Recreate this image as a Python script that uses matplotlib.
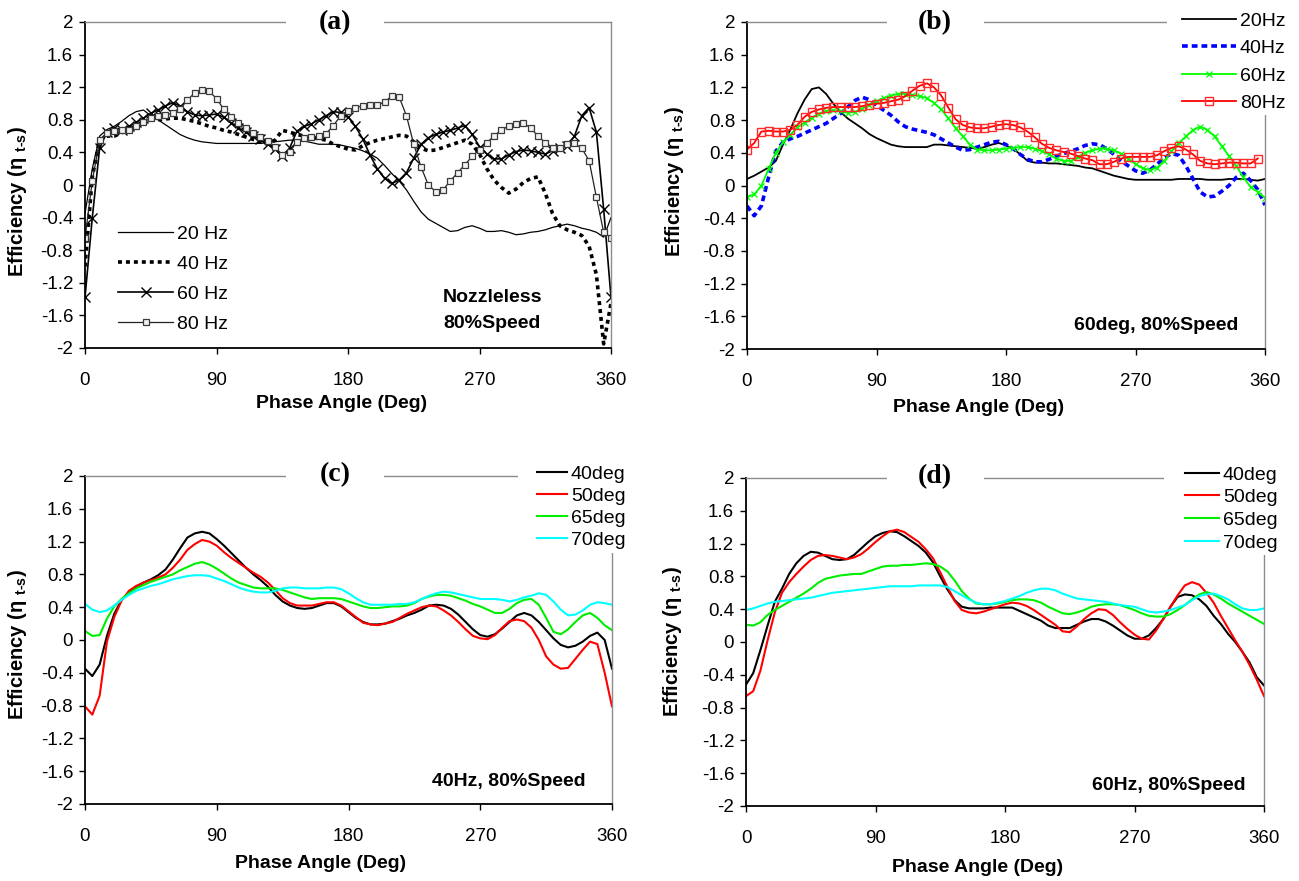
import numpy as np
import matplotlib
matplotlib.use("Agg")
import matplotlib.pyplot as plt
from matplotlib.patches import Rectangle

plt.rcParams["mathtext.fontset"] = "custom"
plt.rcParams["mathtext.rm"] = "Liberation Sans:bold"
plt.rcParams["mathtext.bf"] = "Liberation Sans:bold"
plt.rcParams["mathtext.it"] = "Liberation Sans:bold"

# ---------------------------------------------------------------- data
phase = np.arange(0, 361, 5)

x_ticks = [0, 90, 180, 270, 360]
x_tick_labels = ["0", "90", "180", "270", "360"]
y_ticks = [2, 1.6, 1.2, 0.8, 0.4, 0, -0.4, -0.8, -1.2, -1.6, -2]
y_tick_labels = ["2", "1.6", "1.2", "0.8", "0.4", "0", "-0.4", "-0.8",
                 "-1.2", "-1.6", "-2"]

# (a) nozzleless turbine, 80% speed, pulse frequency sweep
a_labels = ["20 Hz", "40 Hz", "60 Hz", "80 Hz"]
a_20hz = [-0.35, 0.20, 0.60, 0.68, 0.72, 0.78, 0.85, 0.90, 0.92, 0.85, 0.80, 0.74,
          0.68, 0.62, 0.58, 0.55, 0.53, 0.52, 0.51, 0.51, 0.51, 0.51, 0.51, 0.51,
          0.51, 0.52, 0.53, 0.54, 0.55, 0.55, 0.54, 0.52, 0.50, 0.50, 0.50, 0.49,
          0.47, 0.45, 0.42, 0.38, 0.33, 0.24, 0.14, 0.05, -0.06, -0.20, -0.33, -0.42,
          -0.47, -0.52, -0.57, -0.56, -0.52, -0.50, -0.53, -0.57, -0.57, -0.56, -0.58, -0.61,
          -0.60, -0.58, -0.57, -0.55, -0.52, -0.50, -0.48, -0.50, -0.53, -0.55, -0.58, -0.64,
          -0.40]
a_40hz = [-1.00, 0.10, 0.55, 0.60, 0.60, 0.64, 0.70, 0.74, 0.78, 0.80, 0.80, 0.81,
          0.82, 0.82, 0.80, 0.78, 0.75, 0.72, 0.70, 0.67, 0.65, 0.62, 0.59, 0.56,
          0.53, 0.50, 0.55, 0.67, 0.65, 0.62, 0.60, 0.58, 0.57, 0.55, 0.50, 0.47,
          0.44, 0.43, 0.48, 0.52, 0.55, 0.57, 0.59, 0.61, 0.60, 0.53, 0.45, 0.42,
          0.43, 0.46, 0.49, 0.52, 0.55, 0.50, 0.38, 0.20, 0.06, -0.03, -0.10, -0.05,
          0.03, 0.08, 0.10, -0.10, -0.35, -0.50, -0.55, -0.58, -0.62, -0.75, -1.10, -1.95,
          -1.45]
a_60hz = [-1.38, -0.40, 0.45, 0.65, 0.70, 0.68, 0.72, 0.77, 0.82, 0.88, 0.92, 0.97,
          1.01, 0.97, 0.90, 0.86, 0.85, 0.86, 0.87, 0.83, 0.76, 0.70, 0.65, 0.60,
          0.56, 0.50, 0.44, 0.36, 0.45, 0.66, 0.72, 0.75, 0.80, 0.85, 0.90, 0.89,
          0.84, 0.72, 0.57, 0.37, 0.20, 0.08, 0.02, 0.06, 0.15, 0.33, 0.50, 0.58,
          0.62, 0.65, 0.67, 0.70, 0.73, 0.62, 0.47, 0.38, 0.32, 0.32, 0.37, 0.41,
          0.43, 0.42, 0.40, 0.38, 0.42, 0.45, 0.48, 0.60, 0.85, 0.95, 0.65, -0.30,
          -1.38]
a_80hz = [-0.65, 0.05, 0.55, 0.64, 0.66, 0.67, 0.68, 0.72, 0.77, 0.82, 0.85, 0.86,
          0.88, 0.93, 1.04, 1.13, 1.17, 1.15, 1.06, 0.93, 0.83, 0.76, 0.70, 0.64,
          0.59, 0.54, 0.47, 0.37, 0.40, 0.53, 0.58, 0.59, 0.60, 0.63, 0.73, 0.85,
          0.91, 0.95, 0.97, 0.98, 0.98, 1.02, 1.09, 1.08, 0.85, 0.50, 0.22, 0.00,
          -0.08, -0.06, 0.05, 0.15, 0.25, 0.35, 0.43, 0.52, 0.60, 0.68, 0.72, 0.75,
          0.76, 0.70, 0.60, 0.52, 0.46, 0.45, 0.50, 0.51, 0.45, 0.30, -0.15, -0.58,
          -0.65]

# (b) 60 deg nozzle, 80% speed, pulse frequency sweep
b_labels = ["20Hz", "40Hz", "60Hz", "80Hz"]
b_20hz = [0.08, 0.12, 0.17, 0.22, 0.30, 0.50, 0.68, 0.88, 1.05, 1.18, 1.20, 1.12,
          1.00, 0.90, 0.82, 0.76, 0.70, 0.63, 0.58, 0.54, 0.50, 0.48, 0.47, 0.47,
          0.47, 0.47, 0.50, 0.50, 0.49, 0.48, 0.47, 0.46, 0.45, 0.47, 0.50, 0.52,
          0.49, 0.45, 0.38, 0.30, 0.28, 0.28, 0.27, 0.27, 0.26, 0.25, 0.24, 0.22,
          0.21, 0.18, 0.15, 0.12, 0.10, 0.08, 0.07, 0.07, 0.07, 0.07, 0.07, 0.07,
          0.08, 0.08, 0.08, 0.08, 0.07, 0.07, 0.07, 0.08, 0.08, 0.08, 0.07, 0.06,
          0.08]
b_40hz = [-0.25, -0.37, -0.25, 0.10, 0.42, 0.53, 0.57, 0.60, 0.64, 0.68, 0.72, 0.76,
          0.82, 0.88, 0.96, 1.04, 1.08, 1.05, 0.98, 0.92, 0.86, 0.78, 0.72, 0.69,
          0.67, 0.65, 0.62, 0.57, 0.52, 0.47, 0.43, 0.44, 0.47, 0.50, 0.53, 0.54,
          0.50, 0.45, 0.38, 0.32, 0.29, 0.29, 0.32, 0.36, 0.39, 0.42, 0.45, 0.49,
          0.51, 0.50, 0.45, 0.38, 0.30, 0.24, 0.18, 0.15, 0.19, 0.26, 0.34, 0.39,
          0.37, 0.24, 0.08, -0.08, -0.14, -0.13, -0.07, 0.00, 0.10, 0.15, 0.06, -0.05,
          -0.24]
b_60hz = [-0.14, -0.11, 0.00, 0.20, 0.40, 0.53, 0.62, 0.71, 0.77, 0.83, 0.88, 0.91,
          0.92, 0.91, 0.89, 0.90, 0.94, 0.99, 1.03, 1.07, 1.10, 1.12, 1.12, 1.11,
          1.09, 1.07, 1.01, 0.93, 0.82, 0.70, 0.60, 0.50, 0.44, 0.43, 0.43, 0.44,
          0.45, 0.46, 0.47, 0.47, 0.45, 0.42, 0.38, 0.33, 0.30, 0.30, 0.35, 0.40,
          0.43, 0.45, 0.45, 0.43, 0.39, 0.33, 0.26, 0.21, 0.19, 0.22, 0.30, 0.42,
          0.52, 0.60, 0.68, 0.72, 0.68, 0.60, 0.48, 0.36, 0.24, 0.10, -0.02, -0.08,
          -0.15]
b_80hz = [0.44, 0.52, 0.66, 0.67, 0.66, 0.66, 0.68, 0.74, 0.84, 0.90, 0.93, 0.95,
          0.96, 0.96, 0.96, 0.96, 0.97, 0.99, 1.00, 1.01, 1.03, 1.05, 1.09, 1.16,
          1.22, 1.25, 1.20, 1.10, 0.95, 0.81, 0.74, 0.71, 0.70, 0.70, 0.72, 0.74,
          0.75, 0.74, 0.71, 0.66, 0.59, 0.51, 0.46, 0.43, 0.41, 0.39, 0.36, 0.33,
          0.31, 0.26, 0.26, 0.29, 0.33, 0.35, 0.35, 0.35, 0.35, 0.37, 0.42, 0.46,
          0.48, 0.44, 0.38, 0.30, 0.27, 0.26, 0.27, 0.28, 0.28, 0.27, 0.27, 0.33,
          np.nan]

# (c) 40 Hz, 80% speed, nozzle angle sweep
angle_labels = ["40deg", "50deg", "65deg", "70deg"]
c_40deg = [-0.35, -0.44, -0.30, 0.05, 0.32, 0.49, 0.58, 0.65, 0.70, 0.74, 0.79, 0.86,
           0.98, 1.12, 1.25, 1.30, 1.32, 1.30, 1.23, 1.15, 1.06, 0.97, 0.88, 0.80,
           0.73, 0.65, 0.55, 0.47, 0.42, 0.39, 0.38, 0.39, 0.42, 0.45, 0.45, 0.41,
           0.34, 0.27, 0.22, 0.19, 0.19, 0.20, 0.23, 0.26, 0.30, 0.33, 0.37, 0.42,
           0.43, 0.42, 0.38, 0.31, 0.22, 0.13, 0.06, 0.04, 0.07, 0.14, 0.22, 0.30,
           0.33, 0.30, 0.22, 0.12, 0.02, -0.06, -0.09, -0.07, -0.02, 0.05, 0.09, 0.00,
           -0.35]
c_50deg = [-0.81, -0.91, -0.68, -0.02, 0.28, 0.48, 0.60, 0.66, 0.70, 0.73, 0.76, 0.80,
           0.88, 0.98, 1.10, 1.17, 1.22, 1.20, 1.15, 1.07, 1.00, 0.94, 0.88, 0.82,
           0.77, 0.70, 0.61, 0.51, 0.45, 0.42, 0.42, 0.42, 0.44, 0.46, 0.46, 0.42,
           0.35, 0.28, 0.21, 0.19, 0.18, 0.20, 0.22, 0.27, 0.32, 0.36, 0.40, 0.42,
           0.41, 0.36, 0.30, 0.22, 0.13, 0.05, 0.02, 0.01, 0.06, 0.15, 0.23, 0.25,
           0.23, 0.15, 0.00, -0.20, -0.30, -0.35, -0.34, -0.23, -0.12, -0.02, -0.05, -0.40,
           -0.81]
c_65deg = [0.11, 0.05, 0.06, 0.26, 0.41, 0.50, 0.57, 0.63, 0.67, 0.71, 0.74, 0.77,
           0.80, 0.85, 0.89, 0.93, 0.95, 0.92, 0.87, 0.81, 0.75, 0.70, 0.67, 0.64,
           0.63, 0.63, 0.63, 0.61, 0.58, 0.55, 0.52, 0.50, 0.51, 0.51, 0.51, 0.50,
           0.47, 0.44, 0.41, 0.39, 0.39, 0.40, 0.41, 0.41, 0.42, 0.45, 0.50, 0.53,
           0.55, 0.55, 0.54, 0.51, 0.48, 0.44, 0.41, 0.37, 0.33, 0.33, 0.38, 0.45,
           0.49, 0.50, 0.43, 0.27, 0.10, 0.07, 0.13, 0.22, 0.30, 0.33, 0.27, 0.18,
           0.12]
c_70deg = [0.44, 0.37, 0.34, 0.36, 0.42, 0.49, 0.55, 0.60, 0.63, 0.66, 0.68, 0.71,
           0.74, 0.76, 0.78, 0.79, 0.79, 0.78, 0.75, 0.72, 0.68, 0.64, 0.61, 0.59,
           0.58, 0.58, 0.60, 0.63, 0.64, 0.64, 0.63, 0.63, 0.63, 0.64, 0.64, 0.62,
           0.57, 0.51, 0.46, 0.43, 0.43, 0.43, 0.43, 0.44, 0.44, 0.46, 0.50, 0.54,
           0.57, 0.59, 0.58, 0.56, 0.54, 0.52, 0.50, 0.50, 0.50, 0.49, 0.47, 0.49,
           0.52, 0.54, 0.57, 0.55, 0.47, 0.37, 0.30, 0.31, 0.36, 0.43, 0.46, 0.45,
           0.43]

# (d) 60 Hz, 80% speed, nozzle angle sweep
d_40deg = [-0.52, -0.38, -0.10, 0.20, 0.49, 0.65, 0.83, 0.96, 1.05, 1.10, 1.09, 1.05,
           1.01, 1.00, 1.01, 1.06, 1.14, 1.22, 1.29, 1.33, 1.35, 1.34, 1.29, 1.23,
           1.17, 1.09, 0.97, 0.80, 0.64, 0.51, 0.43, 0.41, 0.41, 0.41, 0.42, 0.42,
           0.42, 0.42, 0.38, 0.34, 0.30, 0.26, 0.20, 0.17, 0.17, 0.17, 0.21, 0.25,
           0.28, 0.28, 0.25, 0.20, 0.14, 0.08, 0.04, 0.04, 0.08, 0.17, 0.28, 0.43,
           0.55, 0.58, 0.57, 0.52, 0.44, 0.32, 0.22, 0.10, 0.00, -0.12, -0.25, -0.43,
           -0.53]
d_50deg = [-0.66, -0.60, -0.35, 0.02, 0.36, 0.60, 0.73, 0.83, 0.92, 1.00, 1.05, 1.06,
           1.05, 1.03, 1.01, 1.03, 1.07, 1.14, 1.22, 1.29, 1.35, 1.37, 1.34, 1.28,
           1.22, 1.13, 1.02, 0.85, 0.67, 0.50, 0.39, 0.36, 0.35, 0.37, 0.40, 0.43,
           0.46, 0.48, 0.47, 0.44, 0.39, 0.33, 0.27, 0.21, 0.13, 0.12, 0.19, 0.28,
           0.35, 0.40, 0.39, 0.33, 0.24, 0.16, 0.09, 0.04, 0.03, 0.14, 0.28, 0.43,
           0.57, 0.69, 0.73, 0.70, 0.60, 0.48, 0.32, 0.17, 0.02, -0.12, -0.28, -0.46,
           -0.66]
d_65deg = [0.21, 0.20, 0.24, 0.33, 0.39, 0.44, 0.49, 0.54, 0.59, 0.65, 0.72, 0.77,
           0.79, 0.81, 0.82, 0.83, 0.83, 0.86, 0.89, 0.92, 0.93, 0.93, 0.94, 0.94,
           0.95, 0.96, 0.95, 0.92, 0.86, 0.75, 0.62, 0.53, 0.47, 0.46, 0.46, 0.47,
           0.49, 0.51, 0.52, 0.52, 0.51, 0.48, 0.43, 0.39, 0.35, 0.34, 0.36, 0.39,
           0.43, 0.45, 0.46, 0.46, 0.45, 0.42, 0.39, 0.35, 0.32, 0.31, 0.31, 0.34,
           0.39, 0.45, 0.52, 0.58, 0.61, 0.58, 0.53, 0.47, 0.42, 0.37, 0.32, 0.27,
           0.22]
d_70deg = [0.39, 0.41, 0.44, 0.47, 0.49, 0.50, 0.51, 0.52, 0.53, 0.54, 0.56, 0.58,
           0.60, 0.61, 0.62, 0.63, 0.64, 0.65, 0.66, 0.67, 0.68, 0.68, 0.68, 0.68,
           0.69, 0.69, 0.69, 0.69, 0.67, 0.62, 0.57, 0.52, 0.48, 0.46, 0.46, 0.48,
           0.50, 0.53, 0.56, 0.60, 0.63, 0.65, 0.65, 0.63, 0.59, 0.56, 0.53, 0.52,
           0.51, 0.50, 0.49, 0.47, 0.45, 0.44, 0.43, 0.40, 0.37, 0.36, 0.37, 0.39,
           0.42, 0.45, 0.51, 0.56, 0.58, 0.59, 0.56, 0.52, 0.46, 0.41, 0.39, 0.39,
           0.41]

# ---------------------------------------------------------------- layout
W, H = 1299, 881
NARROW = ["Liberation Sans Narrow", "Liberation Sans", "DejaVu Sans"]
SANS = ["Liberation Sans", "DejaVu Sans"]
SERIF = ["Liberation Serif", "DejaVu Serif"]
TICK_FS = 13.5
LEG_FS = 14


def fx(px):
    return px / W


def fy(py):
    return 1 - py / H


def rect(left, top, right, bottom):
    return [fx(left), fy(bottom), (right - left) / W, (bottom - top) / H]


fig = plt.figure(figsize=(W / 100, H / 100), dpi=100)
fig.patch.set_facecolor("white")


def make_axes(box):
    ax = fig.add_axes(rect(*box))
    ax.set_xlim(0, 360)
    ax.set_ylim(-2, 2)
    ax.set_xticks(x_ticks)
    ax.set_xticklabels(x_tick_labels, fontfamily=NARROW, fontsize=TICK_FS)
    ax.set_yticks(y_ticks)
    ax.set_yticklabels(y_tick_labels, fontfamily=NARROW, fontsize=TICK_FS)
    for side in ("left", "bottom"):
        ax.spines[side].set_color("black")
        ax.spines[side].set_linewidth(1.3)
    for side in ("top", "right"):
        ax.spines[side].set_color("#8c8c8c")
        ax.spines[side].set_linewidth(1.0)
    ax.tick_params(axis="both", direction="out", length=4.5, width=1.0, color="black")
    ax.tick_params(axis="x", pad=13)
    ax.tick_params(axis="y", pad=4)
    return ax


def white_box(left, top, right, bottom):
    fig.add_artist(Rectangle((fx(left), fy(bottom)), (right - left) / W,
                             (bottom - top) / H, transform=fig.transFigure,
                             facecolor="white", edgecolor="none", zorder=1))


def panel_title(cx, cy, text, gap):
    white_box(gap[0], cy - 12, gap[1], cy + 12)
    fig.text(fx(cx), fy(cy), text, ha="center", va="center", fontsize=20,
             fontweight="bold", family=SERIF, zorder=3)


ylabel_text = "Efficiency (η $_{\\mathrm{t}\\text{-}\\mathrm{s}}$)"


def axis_labels(xl_cx, xl_cy, yl_cx, yl_cy):
    fig.text(fx(xl_cx), fy(xl_cy), "Phase Angle (Deg)", ha="center", va="center",
             fontsize=14, fontweight="bold", family=NARROW, zorder=3)
    fig.text(fx(yl_cx), fy(yl_cy), ylabel_text, ha="center", va="center",
             rotation=90, fontsize=14.5, fontweight="bold", family=SANS, zorder=3)


def panel_legend(handles, labels, x0, y_first, hlen, spacing):
    fig.legend(handles, labels, loc="upper left",
               bbox_to_anchor=(fx(x0), fy(y_first - 9)),
               frameon=False, borderpad=0, borderaxespad=0,
               handlelength=hlen, handletextpad=0.2, labelspacing=spacing,
               numpoints=1, prop={"family": NARROW, "size": LEG_FS})


# ------------------------------------------------------------ panel (a)
ax_a = make_axes((85, 22, 611, 348))
la = []
la += ax_a.plot(phase, a_20hz, color="black", lw=0.9)
la += ax_a.plot(phase, a_40hz, color="black", lw=2.6, linestyle=(0, (1.1, 1.1)))
la += ax_a.plot(phase, a_60hz, color="black", lw=1.2, marker="x", ms=7, mew=1.0)
la += ax_a.plot(phase, a_80hz, color="#222222", lw=0.9, marker="s", ms=4.5,
                mfc="#f2f2f2", mec="#3a3a3a", mew=0.9)
panel_title(335, 23, "(a)", (286, 384))
axis_labels(342, 404, 18, 202)
panel_legend(la, a_labels, 118, 234, 2.83, 0.64)
fig.text(fx(492), fy(297), "Nozzleless", ha="center", va="center", fontsize=14,
         fontweight="bold", family=NARROW, zorder=3)
fig.text(fx(492), fy(323), "80%Speed", ha="center", va="center", fontsize=14,
         fontweight="bold", family=NARROW, zorder=3)

# ------------------------------------------------------------ panel (b)
ax_b = make_axes((747, 22, 1265, 349))
lb = []
lb += ax_b.plot(phase, b_20hz, color="black", lw=1.3)
lb += ax_b.plot(phase, b_40hz, color="#0000ff", lw=2.6, linestyle=(0, (1.6, 1.1)))
lb += ax_b.plot(phase, b_60hz, color="#00ff00", lw=1.3, marker="x", ms=4, mew=0.9)
lb += ax_b.plot(phase, b_80hz, color="#ff0000", lw=1.3, marker="s", ms=6,
                mfc="none", mec="#ff2a2a", mew=1.0)
panel_title(935, 23, "(b)", (887, 984))
white_box(1167, 0, W, 115)
axis_labels(979, 408, 675, 182)
panel_legend(lb, b_labels, 1182, 21, 2.78, 0.51)
fig.text(fx(1238), fy(325), "60deg, 80%Speed", ha="right", va="center",
         fontsize=14, fontweight="bold", family=NARROW, zorder=3)

# ------------------------------------------------------------ panel (c)
ax_c = make_axes((85, 476, 612, 804))
angle_colors = ["black", "#ff0000", "#00ee00", "#00ffff"]
lc = []
for series, col in zip([c_40deg, c_50deg, c_65deg, c_70deg], angle_colors):
    lc += ax_c.plot(phase, series, color=col, lw=1.5)
panel_title(335, 475, "(c)", (286, 384))
white_box(518, 445, 640, 553)
axis_labels(321, 863, 18, 645)
panel_legend(lc, angle_labels, 537, 474, 1.54, 0.23)
fig.text(fx(586), fy(782), "40Hz, 80%Speed", ha="right", va="center",
         fontsize=14, fontweight="bold", family=NARROW, zorder=3)

# ------------------------------------------------------------ panel (d)
ax_d = make_axes((746, 478, 1264, 806))
ld = []
for series, col in zip([d_40deg, d_50deg, d_65deg, d_70deg], angle_colors):
    ld += ax_d.plot(phase, series, color=col, lw=1.5)
panel_title(935, 477, "(d)", (887, 984))
white_box(1164, 445, W, 555)
axis_labels(978, 867, 673, 642)
panel_legend(ld, angle_labels, 1185, 475, 1.75, 0.26)
fig.text(fx(1246), fy(785), "60Hz, 80%Speed", ha="right", va="center",
         fontsize=14, fontweight="bold", family=NARROW, zorder=3)

fig.savefig("out.png", dpi=100, facecolor="white")
